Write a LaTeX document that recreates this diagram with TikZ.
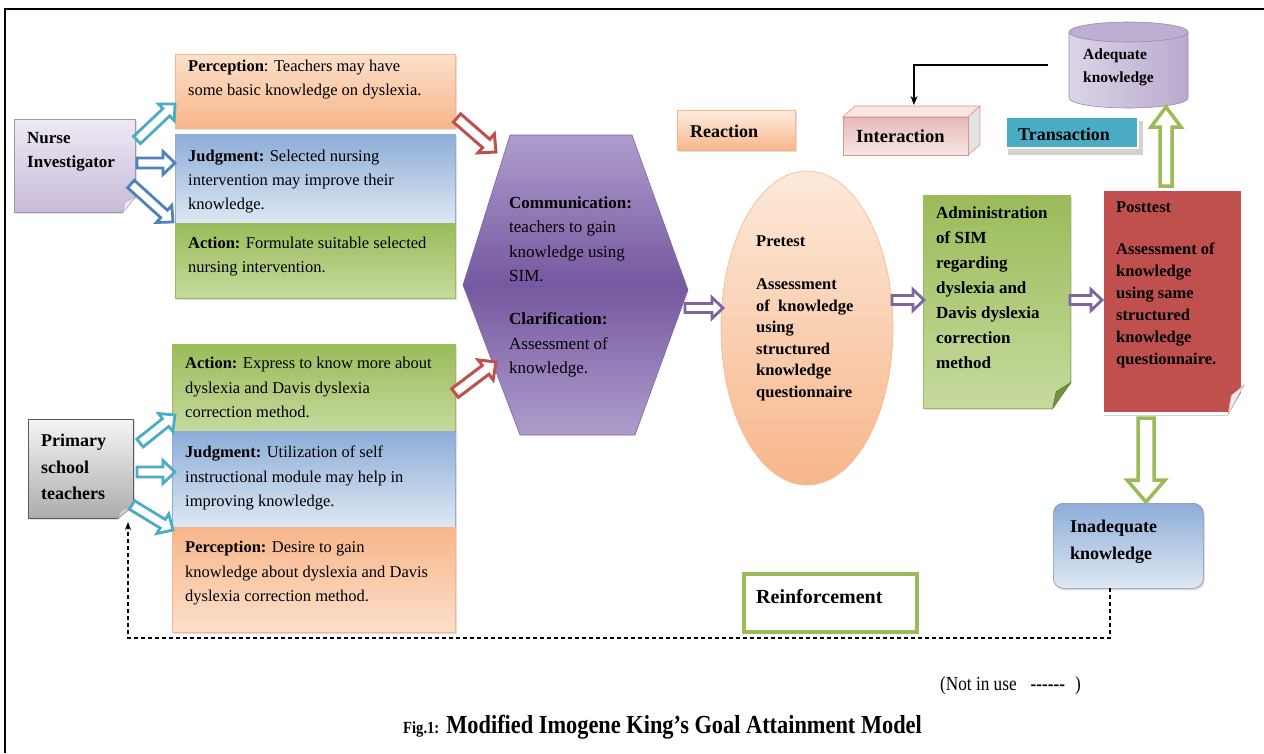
\documentclass[tikz,border=0pt]{standalone}
\usepackage{fontspec}
\setmainfont{Liberation Serif}
\newfontfamily\narrowserif{Liberation Serif}[FakeStretch=0.86]
\usetikzlibrary{calc,shapes.geometric,shadows,arrows.meta}

\newcommand\fsz[2]{\fontsize{#1}{#2}\selectfont}

\definecolor{peachL}{HTML}{FCE0CB}
\definecolor{peachD}{HTML}{F7B68A}
\definecolor{blueD}{HTML}{8DADD8}
\definecolor{blueL}{HTML}{DFE8F3}
\definecolor{greenD}{HTML}{9BBB59}
\definecolor{greenL}{HTML}{C6DA9E}
\definecolor{greenF}{HTML}{76923C}
\definecolor{lavL}{HTML}{EEE9F4}
\definecolor{lavD}{HTML}{C7BAD9}
\definecolor{purpL}{HTML}{AE9DCC}
\definecolor{purpD}{HTML}{7558A0}
\definecolor{accCyan}{HTML}{4BACC6}
\definecolor{accBlue}{HTML}{4F81BD}
\definecolor{accRed}{HTML}{C0504D}
\definecolor{accPurple}{HTML}{8064A2}
\definecolor{accGreen}{HTML}{9BBB59}
\definecolor{pinkD}{HTML}{E6B9B8}
\definecolor{pinkL}{HTML}{F8E6E5}
\definecolor{pinkE}{HTML}{D99594}
\definecolor{cylBodyL}{HTML}{DCD4E6}
\definecolor{cylBodyD}{HTML}{B9AACE}
\definecolor{cylTop}{HTML}{BDAFD1}
\definecolor{cylEdge}{HTML}{9A88B4}
\definecolor{greyFold}{HTML}{D0D0D0}

% hollow block arrow: colour, start, end, shaft half width, head half width, head length, line width
\newcommand\hollowarrow[7]{%
  \path let \p1=($(#3)-(#2)$) in
    \pgfextra{\pgfmathsetmacro\hwang{atan2(\y1,\x1)}\pgfmathsetmacro\hwlen{veclen(\x1,\y1)}\xdef\hwang{\hwang}\xdef\hwlen{\hwlen}};
  \begin{scope}[shift={(#2)},rotate=\hwang]
    \draw[draw=#1,line width=#7,fill=white,line join=miter]
      (0,-#4) -- ({\hwlen-#6},-#4) -- ({\hwlen-#6},-#5) -- (\hwlen,0)
      -- ({\hwlen-#6},#5) -- ({\hwlen-#6},#4) -- (0,#4) -- cycle;
  \end{scope}}

% dog-eared corner at the south east of a box: node, cut x, cut y, fold colour
\newcommand\foldcorner[4]{%
  \fill[white] ($(#1.south east)+(-#2-1.5,-2.5)$) -- ($(#1.south east)+(2.5,-2.5)$) -- ($(#1.south east)+(2.5,#3+1.5)$) -- cycle;
  \filldraw[fill=#4,draw=#4!75!black,line width=0.5pt] ($(#1.south east)+(-#2,0)$) -- ($(#1.south east)+(0,#3)$) -- ($(#1.south east)+(-0.8*#2,0.65*#3)$) -- cycle;}

\begin{document}
\begin{tikzpicture}[x=1pt,y=1pt,
  box/.style={anchor=north west,inner sep=0pt,line width=0.6pt},
  shdw/.style={drop shadow={shadow xshift=1.5pt,shadow yshift=-2pt,opacity=0.25}},
  txt/.style={anchor=north west,inner sep=0pt,align=left},
  lbl/.style={anchor=base west,inner sep=0pt,font=\bfseries\fsz{18}{20}},
  loopline/.style={line width=1.2pt,dash pattern=on 4pt off 3pt}]
\useasboundingbox (0,0) rectangle (1264,-753);
\fill[white] (0,0) rectangle (1264,-753);
% frame
\draw[line width=2pt] (5,-753) -- (5,-9) -- (1264,-9);

% ---------- nurse investigator branch ----------
\node[box,shdw,top color=lavL,bottom color=lavD,draw=lavD!80!black,minimum width=121,minimum height=93] (nurse) at (14,-119) {};
\foldcorner{nurse}{13}{16}{lavL}
\node[txt,font=\bfseries\fsz{17}{24}] (nurseT) at (27,-132) {Nurse\\Investigator};

\node[box,shdw,top color=peachL,bottom color=peachD,draw=peachD,minimum width=280,minimum height=74] (perc1) at (175,-54) {};
\node[box,shdw,top color=blueD,bottom color=blueL,draw=blueD,minimum width=280,minimum height=89] (judg1) at (175,-134) {};
\node[box,shdw,top color=greenD,bottom color=greenL,draw=greenD,minimum width=280,minimum height=75] (act1) at (175,-223) {};
\node[txt,font=\fsz{16.5}{24}] (perc1T) at (188,-60) {\textbf{Perception}: Teachers may have\\some basic knowledge on dyslexia.};
\node[txt,font=\fsz{16.5}{24}] (judg1T) at (188,-150) {\textbf{Judgment:} Selected nursing\\intervention may improve their\\knowledge.};
\node[txt,font=\fsz{16.5}{24}] (act1T) at (188,-237) {\textbf{Action:} Formulate suitable selected\\nursing intervention.};

% ---------- primary school teachers branch ----------
\node[box,shdw,top color=gray!8,bottom color=gray!65,draw=gray!70!black,minimum width=105,minimum height=99] (prim) at (28,-419) {};
\foldcorner{prim}{16}{13}{greyFold}
\node[txt,font=\bfseries\fsz{18}{26.5}] (primT) at (41,-434) {Primary\\school\\teachers};

\node[box,shdw,top color=greenD,bottom color=greenL,draw=greenD,minimum width=283,minimum height=87] (act2) at (172,-344) {};
\node[box,shdw,top color=blueD,bottom color=blueL,draw=blueD,minimum width=283,minimum height=96] (judg2) at (172,-431) {};
\node[box,shdw,top color=peachD,bottom color=peachL,draw=peachD,minimum width=283,minimum height=105] (perc2) at (172,-527) {};
\node[txt,font=\fsz{16.5}{24.5}] (act2T) at (185,-357) {\textbf{Action:} Express to know more about\\dyslexia and Davis dyslexia\\correction method.};
\node[txt,font=\fsz{16.5}{24.5}] (judg2T) at (185,-446) {\textbf{Judgment:} Utilization of self\\instructional module may help in\\improving knowledge.};
\node[txt,font=\fsz{16.5}{24.5}] (perc2T) at (185,-541) {\textbf{Perception:} Desire to gain\\knowledge about dyslexia and Davis\\dyslexia correction method.};

% ---------- communication hexagon ----------
\shade[top color=purpL,bottom color=purpL,middle color=purpD]
  (510,-135) -- (632,-135) -- (688,-290) -- (635,-435) -- (520,-435) -- (463,-285) -- cycle;
\draw[accPurple,line width=0.6pt]
  (510,-135) -- (632,-135) -- (688,-290) -- (635,-435) -- (520,-435) -- (463,-285) -- cycle;
\coordinate (hexW1) at (496,-152);
\coordinate (hexW2) at (496,-362);
\coordinate (hexE) at (685,-308);
\node[txt,font=\fsz{17}{24.5}] (hexT) at (509,-196) {\textbf{Communication:}\\teachers to gain\\knowledge using\\SIM.\\[18.5pt]\textbf{Clarification:}\\Assessment of\\knowledge.};

% ---------- reaction / interaction / transaction ----------
\node[box,shdw,top color=peachL!60,bottom color=peachD,draw=peachD,minimum width=118,minimum height=40] (react) at (677,-110) {};
\node[lbl] (reactT) at (690,-137) {Reaction};

\filldraw[fill=pinkL,draw=pinkE,line width=0.6pt] (843,-117) -- (855,-106) -- (980,-106) -- (968,-117) -- cycle;
\filldraw[fill=gray!22,draw=pinkE,line width=0.6pt] (968,-117) -- (980,-106) -- (980,-145) -- (968,-155) -- cycle;
\node[box,top color=pinkD,bottom color=pinkL,draw=pinkE,minimum width=125,minimum height=38] (inter) at (843,-117) {};
\node[lbl,font=\bfseries\fsz{18.5}{20}] (interT) at (856,-142) {Interaction};

\fill[gray!35] (1008,-121) rectangle (1143,-155);
\node[box,fill=accCyan,draw=white,line width=2pt,minimum width=132,minimum height=31] (trans) at (1005,-116) {};
\node[lbl] (transT) at (1018,-140) {Transaction};

% ---------- pretest ----------
\node[ellipse,top color=peachL!70,bottom color=peachD,draw=peachD,line width=0.6pt,minimum width=172,minimum height=314,inner sep=0pt] (pre) at (807,-328) {};
\node[txt,font=\bfseries\fsz{16.5}{21.5}] (preT) at (756,-235) {Pretest\\[22pt]Assessment\\of\ \ knowledge\\using\\structured\\knowledge\\questionnaire};

% ---------- administration of SIM ----------
\node[box,shdw,top color=greenD,bottom color=greenL,draw=greenD,minimum width=147,minimum height=213] (admin) at (923,-195) {};
\foldcorner{admin}{18}{26}{greenF}
\node[txt,font=\bfseries\fsz{17}{25}] (adminT) at (936,-206) {Administration\\of SIM\\regarding\\dyslexia and\\Davis dyslexia\\correction\\method};

% ---------- posttest ----------
\node[box,fill=accRed,draw=white,line width=3pt,minimum width=140,minimum height=224,drop shadow={shadow xshift=1.5pt,shadow yshift=-2pt,opacity=0.35}] (post) at (1101,-188) {};
\foldcorner{post}{16}{30}{pinkL}
\node[txt,font=\bfseries\fsz{16.5}{22}] (postT) at (1116,-201) {Posttest\\[20pt]Assessment of\\knowledge\\using same\\structured\\knowledge\\questionnaire.};

% ---------- outcomes ----------
% adequate knowledge: cylinder body and top face
\shade[left color=cylBodyL,right color=cylBodyD]
  (1069,-32) -- (1069,-98) arc[start angle=180,end angle=360,x radius=59.5,y radius=10] -- (1188,-32) -- cycle;
\draw[cylEdge,line width=0.6pt]
  (1069,-32) -- (1069,-98) arc[start angle=180,end angle=360,x radius=59.5,y radius=10] -- (1188,-32);
\filldraw[fill=cylTop,draw=cylEdge,line width=0.6pt] (1128.5,-32) ellipse[x radius=59.5,y radius=10];
\node[txt,font=\bfseries\fsz{15.5}{23}] (adeq) at (1083,-49) {Adequate\\knowledge};

\node[box,shdw,rounded corners=10pt,top color=blueD,bottom color=blueL,draw=blueD!85!black,minimum width=150,minimum height=85] (inad) at (1053,-503) {};
\node[txt,font=\bfseries\fsz{18}{27}] (inadT) at (1070,-520) {Inadequate\\knowledge};

\node[box,draw=accGreen,line width=3.5pt,fill=white,minimum width=173,minimum height=58] (reinf) at (742,-572) {};
\node[lbl,font=\bfseries\fsz{20}{22}] (reinfT) at (756,-603) {Reinforcement};

% ---------- block arrows ----------
\coordinate (nA1s) at (137,-140);  \coordinate (nA1e) at (175,-104);
\coordinate (nA2s) at (137,-163);  \coordinate (nA2e) at (175,-163);
\coordinate (nA3s) at (131,-184);  \coordinate (nA3e) at (173,-222);
\coordinate (tA1s) at (140,-443);  \coordinate (tA1e) at (175,-415);
\coordinate (tA2s) at (137,-472);  \coordinate (tA2e) at (175,-472);
\coordinate (tA3s) at (132,-505);  \coordinate (tA3e) at (173,-530);
\coordinate (rA1s) at (457,-118);
\coordinate (rA2s) at (455,-393);
\coordinate (pA2s) at (892,-300);  \coordinate (pA2e) at (924,-300);
\coordinate (pA3s) at (1070,-300); \coordinate (pA3e) at (1102,-300);
\coordinate (pA1e) at (723,-308);
\coordinate (gUs) at (1166,-186);  \coordinate (gUe) at (1166,-107);
\coordinate (gDs) at (1146,-418);  \coordinate (gDe) at (1146,-502);

\hollowarrow{accCyan}{nA1s}{nA1e}{5}{11.5}{12}{2.8pt}
\hollowarrow{accBlue}{nA2s}{nA2e}{5}{11.5}{12}{2.8pt}
\hollowarrow{accBlue}{nA3s}{nA3e}{5}{11.5}{12}{2.8pt}
\hollowarrow{accCyan}{tA1s}{tA1e}{5}{11.5}{12}{2.8pt}
\hollowarrow{accCyan}{tA2s}{tA2e}{5}{11.5}{12}{2.8pt}
\hollowarrow{accCyan}{tA3s}{tA3e}{5}{11.5}{12}{2.8pt}
\hollowarrow{accRed}{rA1s}{hexW1}{5.5}{12.5}{13}{3pt}
\hollowarrow{accRed}{rA2s}{hexW2}{5.5}{12.5}{13}{3pt}
\hollowarrow{accPurple}{hexE}{pA1e}{4.5}{10.5}{11}{2.8pt}
\hollowarrow{accPurple}{pA2s}{pA2e}{4.5}{10.5}{11}{2.8pt}
\hollowarrow{accPurple}{pA3s}{pA3e}{4.5}{10.5}{11}{2.8pt}
\hollowarrow{accGreen}{gUs}{gUe}{6}{15}{20}{3.5pt}
\hollowarrow{accGreen}{gDs}{gDe}{8}{19}{22}{3.5pt}

% ---------- line connectors ----------
\coordinate (adqOut) at (1048,-65);
\coordinate (interIn) at (914,-105);
\draw[line width=1.5pt,-{Stealth[length=9pt,width=7pt]}] (adqOut) -| (interIn);

\coordinate (loopS) at (1110,-588);
\coordinate (primIn) at (128,-522);
\draw[loopline,-{Stealth[length=8pt,width=6pt]}] (loopS) -- ++(0,-50) -| (primIn);

% ---------- notes ----------
\node[anchor=base west,inner sep=0pt,font=\narrowserif\fsz{20}{22}] (note) at (940,-690) {(Not in use\hspace{14pt}\textbf{------}\hspace{10pt})};
\node[anchor=base west,inner sep=0pt,font=\narrowserif\bfseries] (caption) at (403,-733) {\fsz{17}{20}Fig.1:\hspace{7pt}\fsz{26}{28}Modified Imogene King’s Goal Attainment Model};
\end{tikzpicture}
\end{document}
